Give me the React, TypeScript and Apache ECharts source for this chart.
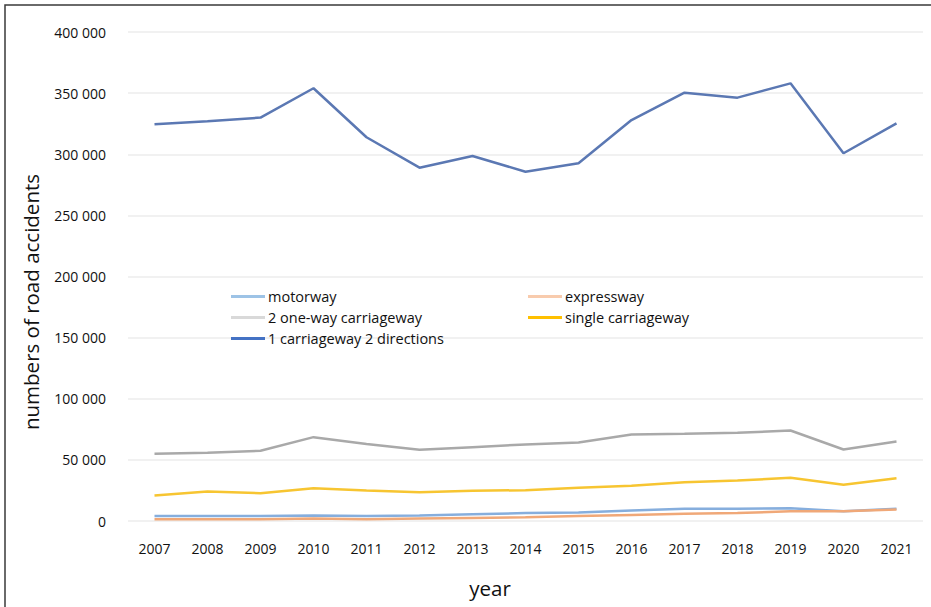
import React, { useEffect, useRef } from "react";
import * as echarts from "echarts";

const years = ["2007", "2008", "2009", "2010", "2011", "2012", "2013", "2014", "2015", "2016", "2017", "2018", "2019", "2020", "2021"];
const motorway = [4000, 4000, 4000, 4500, 4000, 4500, 5500, 6500, 7000, 8500, 10000, 10000, 10500, 8000, 10000];
const expressway = [1500, 1500, 1500, 2000, 1500, 2000, 2500, 3000, 4000, 5000, 6000, 6500, 8000, 8000, 9500];
const twoOneWay = [55000, 55800, 57400, 68600, 63000, 58200, 60400, 62600, 64200, 70800, 71300, 72100, 74000, 58500, 65000];
const singleCarriageway = [20900, 24100, 22700, 26800, 25000, 23600, 24700, 25200, 27200, 28800, 31700, 33100, 35300, 29600, 35000];
const oneCarriageway2Dir = [324500, 327000, 330000, 354000, 313900, 289000, 298600, 285700, 292600, 328000, 350400, 346300, 358000, 300800, 325300];

const FONT = "'Open Sans', 'Noto Sans', sans-serif";

export default function App() {
  const ref = useRef<HTMLDivElement>(null);
  useEffect(() => {
    if (!ref.current) return;
    const chart = echarts.init(ref.current, undefined, { renderer: "svg" });
    const mk = (name: string, data: number[], color: string, width: number, z: number) => ({
      name,
      type: "line",
      data,
      symbol: "none",
      z,
      lineStyle: { color, width },
      itemStyle: { color },
    });
    const legendText = { fontFamily: FONT, fontSize: 14.5, color: "#111111", padding: [0, 0, 0, -2] };
    chart.setOption({
      animation: false,
      backgroundColor: "#ffffff",
      textStyle: { fontFamily: FONT },
      grid: { left: 128, right: 8, top: 32, bottom: 86 },
      legend: [
        {
          orient: "vertical",
          left: 226,
          top: 284,
          itemWidth: 34,
          itemHeight: 3,
          itemGap: 6,
          icon: "rect",
          textStyle: legendText,
          data: [
            { name: "motorway", itemStyle: { color: "#9dc3e6" } },
            { name: "2 one-way carriageway", itemStyle: { color: "#d9d9d9" } },
            { name: "1 carriageway 2 directions", itemStyle: { color: "#4472c4" } },
          ],
        },
        {
          orient: "vertical",
          left: 523,
          top: 284,
          itemWidth: 34,
          itemHeight: 3,
          itemGap: 6,
          icon: "rect",
          textStyle: legendText,
          data: [
            { name: "expressway", itemStyle: { color: "#f8cbad" } },
            { name: "single carriageway", itemStyle: { color: "#ffc000" } },
          ],
        },
      ],
      xAxis: {
        type: "category",
        data: years,
        boundaryGap: true,
        axisLine: { show: false },
        axisTick: { show: false },
        axisLabel: { fontFamily: FONT, fontSize: 14, color: "#111111", margin: 20 },
      },
      yAxis: {
        type: "value",
        min: 0,
        max: 400000,
        interval: 50000,
        axisLine: { show: false },
        axisTick: { show: false },
        splitLine: { lineStyle: { color: "#ececec", width: 1.5 } },
        axisLabel: {
          fontFamily: FONT,
          fontSize: 14,
          color: "#111111",
          margin: 22,
          formatter: (v: number) => String(v).replace(/\B(?=(\d{3})+(?!\d))/g, " "),
        },
      },
      graphic: [
        {
          type: "rect",
          shape: { x: 5, y: 5, width: 960, height: 640 },
          style: { fill: "none", stroke: "#3a3a3a", lineWidth: 1.5 },
          silent: true,
        },
        {
          type: "text",
          x: 31,
          y: 302,
          rotation: Math.PI / 2,
          style: {
            text: "numbers of road accidents",
            font: `20.5px ${FONT}`,
            fill: "#111111",
            align: "center",
            verticalAlign: "middle",
          },
        },
        {
          type: "text",
          x: 490,
          y: 588,
          style: {
            text: "year",
            font: `20.5px ${FONT}`,
            fill: "#111111",
            align: "center",
            verticalAlign: "middle",
          },
        },
      ],
      series: [
        mk("motorway", motorway, "#86aedd", 2.5, 3),
        mk("expressway", expressway, "#f0a878", 2.5, 4),
        mk("2 one-way carriageway", twoOneWay, "#a9a9a9", 2.5, 3),
        mk("single carriageway", singleCarriageway, "#f7c531", 2.5, 3),
        mk("1 carriageway 2 directions", oneCarriageway2Dir, "#5b78b3", 2.5, 3),
      ],
    });
    return () => chart.dispose();
  }, []);
  return (
    <div
      ref={ref}
      style={{ position: "fixed", left: 0, top: 0, width: 931, height: 607, background: "#fff" }}
    />
  );
}
